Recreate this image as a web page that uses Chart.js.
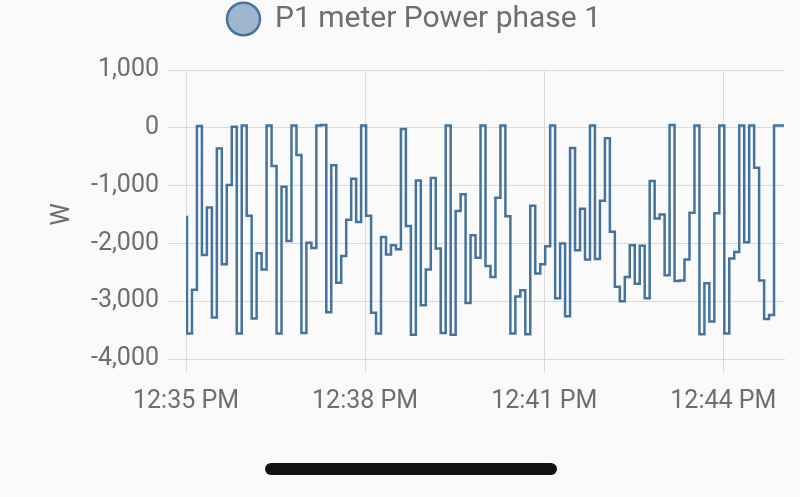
<!DOCTYPE html>
<html>
<head>
<meta charset="utf-8">
<title>P1 meter Power phase 1</title>
<script src="https://cdn.jsdelivr.net/npm/chart.js@4"></script>
<style>
    html, body { margin: 0; padding: 0; background: #fafafa; }
    #wrap { position: relative; width: 800px; height: 445px; }
    .navbar { position: absolute; left: 265px; top: 463px; width: 292px; height: 12px; border-radius: 6px; background: #111; }
</style>
</head>
<body>
<div id="wrap"><canvas id="chart"></canvas></div>
<div class="navbar"></div>
<script>
// ==================== DATA ====================
const SERIES_LABEL = 'P1 meter Power phase 1';
const UNIT = 'W';

// seconds after 12:35:00
const times = [
    1, 6, 11, 16, 21, 26, 31, 36, 41, 46,
    51, 56, 61, 66, 71, 76, 81, 86, 91, 96,
    101, 106, 111, 116, 121, 126, 131, 136, 141, 146,
    151, 156, 161, 166, 171, 176, 181, 186, 191, 196,
    201, 206, 211, 216, 221, 226, 231, 236, 241, 246,
    251, 256, 261, 266, 271, 276, 281, 286, 291, 296,
    301, 306, 311, 316, 321, 326, 331, 336, 341, 346,
    351, 356, 361, 366, 371, 376, 381, 386, 391, 396,
    401, 406, 411, 416, 421, 426, 431, 436, 441, 446,
    451, 456, 461, 466, 471, 476, 481, 486, 491, 496,
    501, 506, 511, 516, 521, 526, 531, 536, 541, 546,
    551, 556, 561, 566, 571, 576, 581, 586, 591, 596,
    601
];

// watts
const power = [
    -1520, -3560, -2800, 30, -2200, -1380, -3280, -360, -2360, -990,
    20, -3560, 40, -1520, -3300, -2170, -2450, 40, -660, -3560,
    -1020, -1960, 40, -470, -3550, -1990, -2080, 40, 50, -3190,
    -650, -2680, -2220, -1590, -880, -1630, 40, -1520, -3200, -3560,
    -1890, -2190, -2030, -2100, -20, -1700, -3580, -910, -3070, -2450,
    -870, -2090, -3550, 40, -3580, -1440, -1150, -3030, -1860, -2250,
    40, -2390, -2580, -1210, 40, -1530, -3560, -2920, -2810, -3570,
    -1350, -2520, -2360, -2050, 40, -2950, -2000, -3260, -350, -2120,
    -1400, -2280, 40, -2270, -1260, -180, -1800, -2750, -3000, -2580,
    -2030, -2700, -2040, -2950, -920, -1570, -1500, -2550, 50, -2650,
    -2640, -2280, -1470, 40, -3570, -2690, -3350, -1480, 40, -3560,
    -2260, -2150, 40, -1980, 40, -690, -2640, -3310, -3240, 40,
    40
];

const xTickSeconds = [0, 180, 360, 540];
const xTickLabels = ['12:35 PM', '12:38 PM', '12:41 PM', '12:44 PM'];

// ==================== THEME ====================
const THEME = {
    line: '#44739e',
    fill: 'rgba(68,115,158,0.5)',
    text: '#6e6e6e',
    grid: '#dadada'
};

const LEGEND_HEIGHT = 70;

Chart.defaults.font.family = "Roboto, 'Noto Sans', sans-serif";
Chart.defaults.color = THEME.text;

// keep the legend box at a fixed height so the plot starts lower
const legendHeightPlugin = {
    id: 'legendHeight',
    beforeLayout(chart) {
        const legend = chart.legend;
        if (legend && !legend._fixedHeight) {
            const fit = legend.fit.bind(legend);
            legend.fit = function () {
                fit();
                this.height = LEGEND_HEIGHT;
            };
            legend._fixedHeight = true;
        }
    }
};

const points = times.map((t, i) => ({ x: t, y: power[i] }));

new Chart(document.getElementById('chart'), {
    type: 'line',
    data: {
        datasets: [{
            label: SERIES_LABEL,
            data: points,
            borderColor: THEME.line,
            backgroundColor: THEME.fill,
            borderWidth: 2.5,
            pointRadius: 0,
            stepped: 'after',
            fill: false
        }]
    },
    options: {
        responsive: true,
        maintainAspectRatio: false,
        animation: false,
        layout: { padding: { left: 44, right: 16, top: 0, bottom: 14 } },
        plugins: {
            legend: {
                position: 'top',
                labels: {
                    usePointStyle: true,
                    pointStyle: 'circle',
                    boxHeight: 23,
                    pointStyleWidth: 33,
                    padding: 4,
                    font: { size: 30 },
                    color: THEME.text
                }
            },
            tooltip: { enabled: false }
        },
        scales: {
            x: {
                type: 'linear',
                min: 0,
                max: 601,
                afterBuildTicks: (scale) => {
                    scale.ticks = xTickSeconds.map(v => ({ value: v }));
                },
                ticks: {
                    font: { size: 25 },
                    padding: 14,
                    maxRotation: 0,
                    callback: (value) => xTickLabels[xTickSeconds.indexOf(value)] || ''
                },
                grid: { color: THEME.grid, tickLength: 14 },
                border: { color: THEME.grid }
            },
            y: {
                min: -4000,
                max: 1000,
                ticks: { stepSize: 1000, font: { size: 25 }, padding: 9 },
                grid: { color: THEME.grid, tickLength: 18 },
                border: { color: THEME.grid },
                title: { display: true, text: UNIT, font: { size: 25 }, color: THEME.text },
                afterFit: (scale) => { scale.width = 142; }
            }
        }
    },
    plugins: [legendHeightPlugin]
});
</script>
</body>
</html>
